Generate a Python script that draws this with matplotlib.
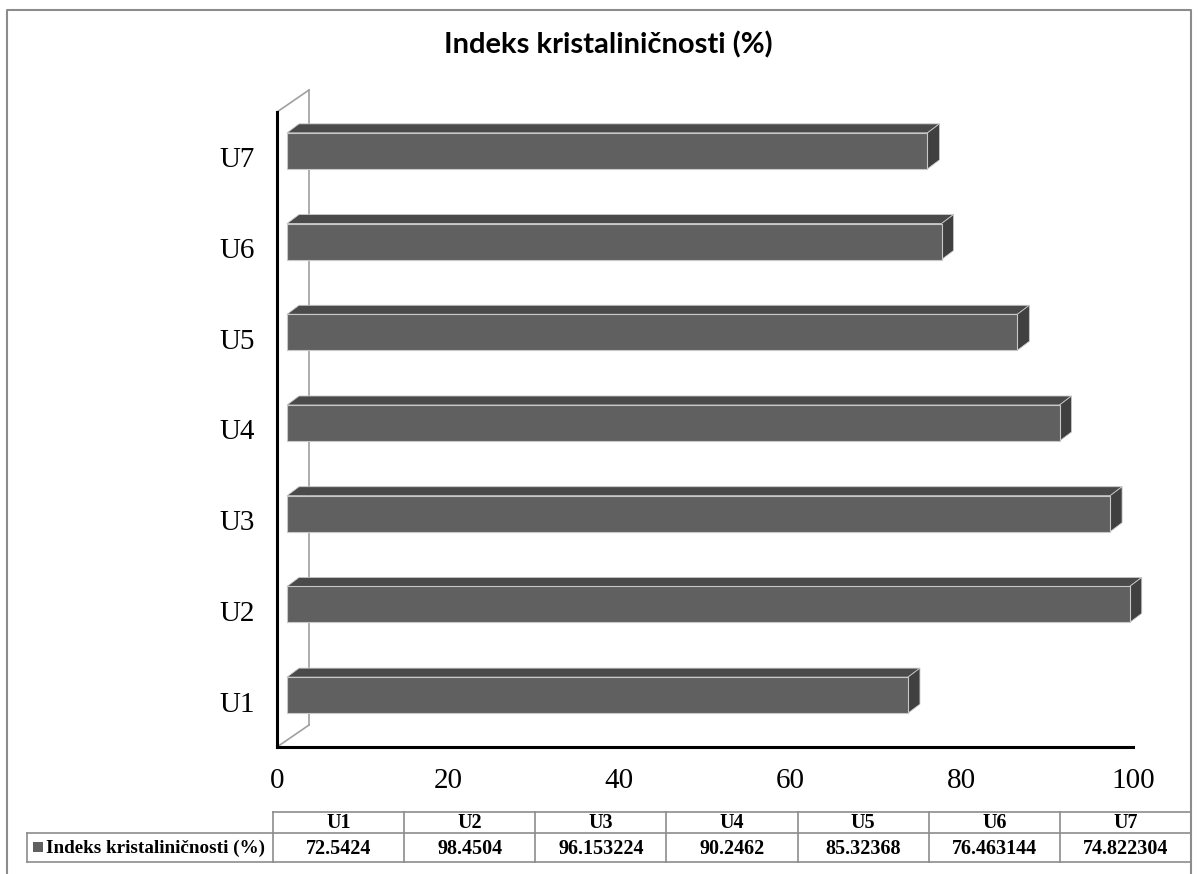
import numpy as np
import matplotlib
matplotlib.use('Agg')
import matplotlib.pyplot as plt
from matplotlib.patches import Polygon, Rectangle

# Podaci
kategorije = ['U1', 'U2', 'U3', 'U4', 'U5', 'U6', 'U7']
vrijednosti = [72.5424, 98.4504, 96.153224, 90.2462, 85.32368, 76.463144, 74.822304]
tekst_vrijednosti = ['72.5424', '98.4504', '96.153224', '90.2462', '85.32368', '76.463144', '74.822304']
x_ticks = [0, 20, 40, 60, 80, 100]
naslov = 'Indeks kristaliničnosti (%)'
serija = 'Indeks kristaliničnosti (%)'

W, H = 1198, 874
fig = plt.figure(figsize=(W / 100, H / 100), dpi=100)

# polozaj osi u pikselima
ax_l, ax_r, ax_t, ax_b = 277, 1133, 112, 747
ax = fig.add_axes([ax_l / W, 1 - ax_b / H, (ax_r - ax_l) / W, (ax_b - ax_t) / H])
ax.set_xlim(0, 100)
ax.set_ylim(-0.5, len(kategorije) - 0.5)
ppx = (ax_r - ax_l) / 100.0
ppy = (ax_b - ax_t) / len(kategorije)

# 3D parametri (pikseli)
zid_dx, zid_dy = 32, 22
front_dx, front_dy = 10, 6.5
dub_dx, dub_dy = 12, 9
visina = 36

boja_front = '#606060'
boja_vrh = '#4a4a4a'
boja_bok = '#404040'
rub = '#c8c8c8'

# zadnji zid
wx = zid_dx / ppx
wy = zid_dy / ppy
y0, y1 = -0.5, len(kategorije) - 0.5
ax.plot([wx, wx], [y0 + wy, y1 + wy], color='#a0a0a0', lw=1.2, clip_on=False, zorder=1)
ax.plot([0, wx], [y1, y1 + wy], color='#a0a0a0', lw=1.2, clip_on=False, zorder=1)
ax.plot([0, wx], [y0, y0 + wy], color='#a0a0a0', lw=1.2, clip_on=False, zorder=1)

fx = front_dx / ppx
fy = front_dy / ppy
ddx = dub_dx / ppx
ddy = dub_dy / ppy
h = visina / ppy

for i, v in enumerate(vrijednosti):
    yc = i + fy
    xl, xr = fx, fx + v
    yb, yt = yc - h / 2, yc + h / 2
    # vrh
    ax.add_patch(Polygon([[xl, yt], [xr, yt], [xr + ddx, yt + ddy], [xl + ddx, yt + ddy]],
                         closed=True, facecolor=boja_vrh, edgecolor=rub, lw=0.6,
                         clip_on=False, zorder=3))
    # bok
    ax.add_patch(Polygon([[xr, yb], [xr + ddx, yb + ddy], [xr + ddx, yt + ddy], [xr, yt]],
                         closed=True, facecolor=boja_bok, edgecolor=rub, lw=0.6,
                         clip_on=False, zorder=3))
    # prednja strana
    ax.add_patch(Rectangle((xl, yb), v, h, facecolor=boja_front, edgecolor=rub,
                           lw=0.8, clip_on=False, zorder=4))

for s in ['top', 'right']:
    ax.spines[s].set_visible(False)
for s in ['left', 'bottom']:
    ax.spines[s].set_linewidth(2.2)
    ax.spines[s].set_color('black')
    ax.spines[s].set_zorder(5)

ax.set_yticks(range(len(kategorije)))
ax.set_yticklabels(kategorije)
ax.set_xticks(x_ticks)
ax.set_xticklabels([str(t) for t in x_ticks])
ax.tick_params(axis='both', length=0, labelsize=21)
ax.tick_params(axis='x', pad=15)
ax.tick_params(axis='y', pad=16)
for lab in ax.get_xticklabels() + ax.get_yticklabels():
    lab.set_fontfamily('Liberation Serif')
ax.patch.set_alpha(0)

# naslov
fig.text(608 / W, 1 - 45 / H, naslov, ha='center', va='center', fontsize=21,
         fontweight='bold', family='Lato')

# tablica podataka (overlay u pikselima)
ov = fig.add_axes([0, 0, 1, 1])
ov.set_xlim(0, W)
ov.set_ylim(H, 0)
ov.axis('off')
ov.patch.set_alpha(0)

tl, tr = 273, 1191
t_top, t_mid, t_bot = 812, 833, 862
lbl_l = 27
cw = (tr - tl) / len(kategorije)
lc = '#8c8c8c'
ov.plot([tl, tr], [t_top, t_top], color=lc, lw=1.2)
ov.plot([lbl_l, tr], [t_mid, t_mid], color=lc, lw=1.2)
ov.plot([lbl_l, tr], [t_bot, t_bot], color=lc, lw=1.2)
ov.plot([lbl_l, lbl_l], [t_mid, t_bot], color=lc, lw=1.2)
for j in range(len(kategorije) + 1):
    xx = tl + j * cw
    ov.plot([xx, xx], [t_top, t_bot], color=lc, lw=1.2)
for j, (k, t) in enumerate(zip(kategorije, tekst_vrijednosti)):
    xc = tl + (j + 0.5) * cw
    ov.text(xc, (t_top + t_mid) / 2 + 1, k, ha='center', va='center', fontsize=14.5,
            fontweight='bold', family='Liberation Serif')
    ov.text(xc, (t_mid + t_bot) / 2 + 1, t, ha='center', va='center', fontsize=14.5,
            fontweight='bold', family='Liberation Serif')
ov.add_patch(Rectangle((33, 842), 10, 10, facecolor=boja_front, edgecolor='none'))
ov.text(46, (t_mid + t_bot) / 2 + 1, serija, ha='left', va='center', fontsize=13.8,
        fontweight='bold', family='Liberation Serif')

# okvir
ov.plot([7, 7, 1191, 1191], [874, 10, 10, 874], color='#8c8c8c', lw=1.5)

fig.savefig('out.png', dpi=100)
